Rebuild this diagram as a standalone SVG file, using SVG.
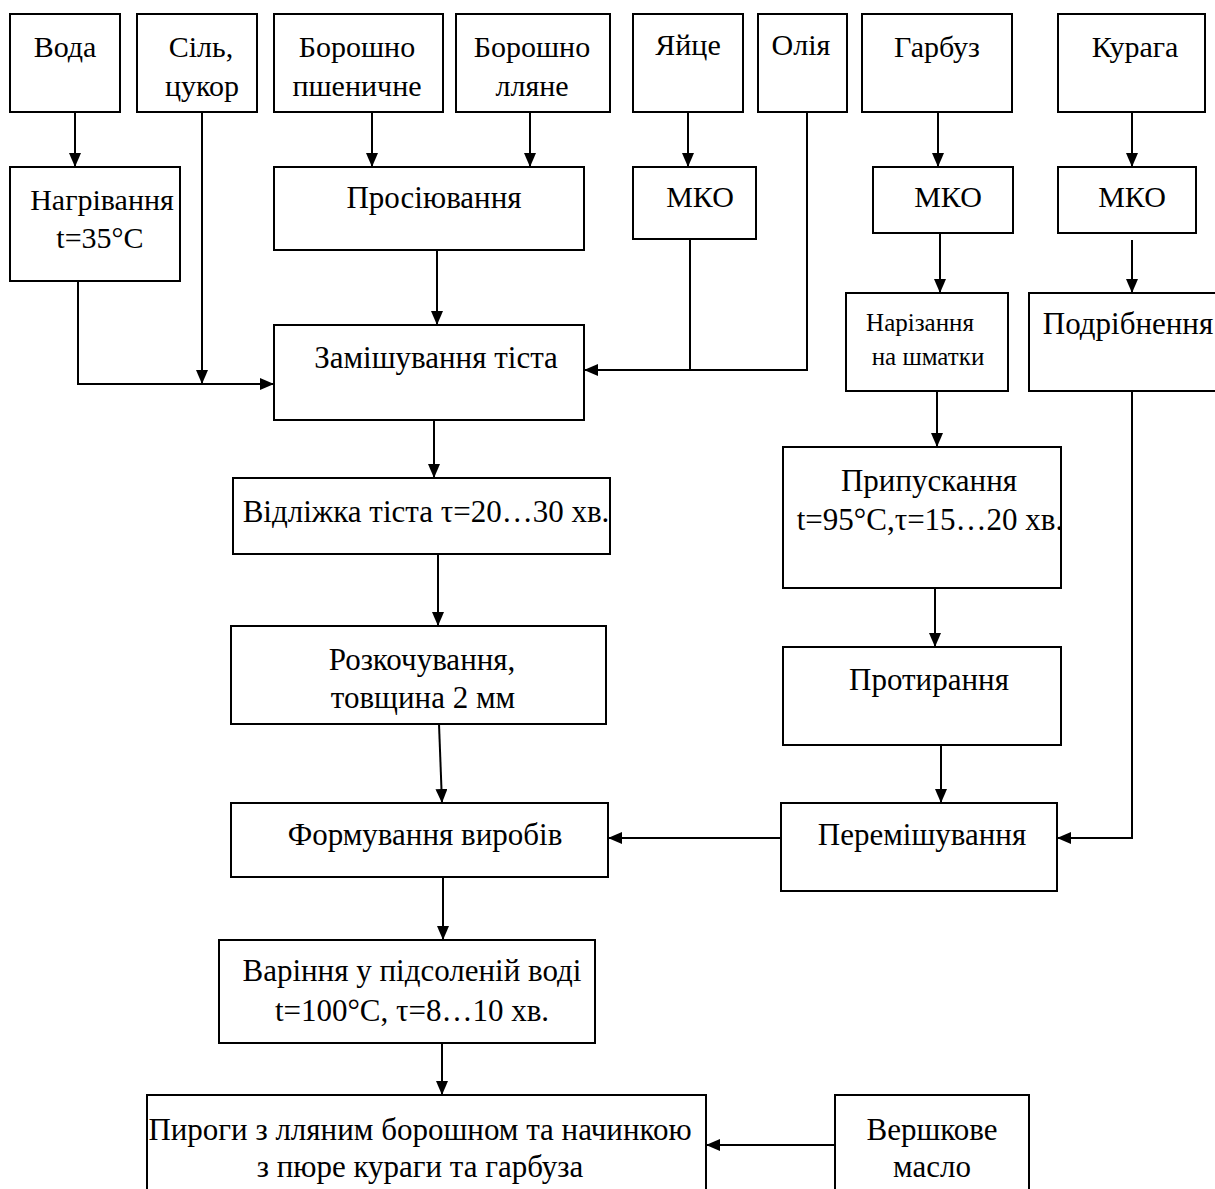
<svg xmlns="http://www.w3.org/2000/svg" width="1215" height="1189" viewBox="0 0 1215 1189">
<defs>
<marker id="ah" viewBox="0 0 14 12" refX="14" refY="6" markerWidth="14" markerHeight="12" markerUnits="userSpaceOnUse" orient="auto">
<path d="M0,0 L14,6 L0,12 Z" fill="#000"/>
</marker>
<style>
.b{fill:#fff;stroke:#000;stroke-width:2}
.t{font-family:"Liberation Serif","Times New Roman",serif;font-size:31px;fill:#000;text-anchor:middle}
.u{font-size:30px}
.s{font-size:25px}
.c{fill:none;stroke:#000;stroke-width:2}
.a{marker-end:url(#ah)}
</style>
</defs>
<rect width="1215" height="1189" fill="#fff"/>
<g id="connectors">
<path class="c a" d="M75,112 V167"/>
<path class="c a" d="M78,281 V384 H274"/>
<path class="c a" d="M202,112 V384"/>
<path class="c a" d="M372,112 V167"/>
<path class="c a" d="M530,112 V167"/>
<path class="c a" d="M437,250 V325"/>
<path class="c a" d="M688,112 V167"/>
<path class="c" d="M690,239 V370"/>
<path class="c a" d="M807,112 V370 H584"/>
<path class="c a" d="M938,112 V167"/>
<path class="c a" d="M940,233 V293"/>
<path class="c a" d="M1132,112 V167"/>
<path class="c a" d="M1132,240 V293"/>
<path class="c a" d="M937,391 V447"/>
<path class="c a" d="M935,588 V647"/>
<path class="c a" d="M941,745 V803"/>
<path class="c a" d="M1132,391 V838 H1057"/>
<path class="c a" d="M781,838 H608"/>
<path class="c a" d="M434,420 V478"/>
<path class="c a" d="M438,554 V626"/>
<path class="c a" d="M439,724 L442,803"/>
<path class="c a" d="M443,877 V940"/>
<path class="c a" d="M442,1043 V1095"/>
<path class="c a" d="M835,1145 H706"/>
</g>
<g id="voda"><rect class="b" x="10" y="14" width="110" height="98"/><text class="t u" x="65" y="57">Вода</text></g>
<g id="sil"><rect class="b" x="137" y="14" width="120" height="98"/><text class="t u" x="201" y="57">Сіль,</text><text class="t u" x="202" y="96">цукор</text></g>
<g id="borosh-psh"><rect class="b" x="274" y="14" width="169" height="98"/><text class="t u" x="357" y="57">Борошно</text><text class="t u" x="357" y="96">пшеничне</text></g>
<g id="borosh-llyane"><rect class="b" x="456" y="14" width="154" height="98"/><text class="t u" x="532" y="57">Борошно</text><text class="t u" x="532" y="96">лляне</text></g>
<g id="yaytse"><rect class="b" x="633" y="14" width="110" height="98"/><text class="t u" x="688" y="55">Яйце</text></g>
<g id="oliya"><rect class="b" x="758" y="14" width="89" height="98"/><text class="t u" x="801" y="55">Олія</text></g>
<g id="garbuz"><rect class="b" x="862" y="14" width="150" height="98"/><text class="t u" x="937" y="57">Гарбуз</text></g>
<g id="kuraga"><rect class="b" x="1058" y="14" width="147" height="98"/><text class="t u" x="1135" y="57">Курага</text></g>
<g id="nagrivannya"><rect class="b" x="10" y="167" width="170" height="114"/><text class="t u" x="102" y="210">Нагрівання</text><text class="t u" x="100" y="248">t=35°C</text></g>
<g id="prosiyuvannya"><rect class="b" x="274" y="167" width="310" height="83"/><text class="t" x="434" y="208">Просіювання</text></g>
<g id="mko1"><rect class="b" x="633" y="167" width="123" height="72"/><text class="t u" x="700" y="207">МКО</text></g>
<g id="mko2"><rect class="b" x="873" y="167" width="140" height="66"/><text class="t u" x="948" y="207">МКО</text></g>
<g id="mko3"><rect class="b" x="1058" y="167" width="138" height="66"/><text class="t u" x="1132" y="207">МКО</text></g>
<g id="zamishuvannya"><rect class="b" x="274" y="325" width="310" height="95"/><text class="t" x="436" y="368">Замішування тіста</text></g>
<g id="narizannya"><rect class="b" x="846" y="293" width="162" height="98"/><text class="t s" x="920" y="331">Нарізання</text><text class="t s" x="928" y="365">на шматки</text></g>
<g id="podribnennya"><rect class="b" x="1029" y="293" width="190" height="98"/><text class="t" x="1128" y="334">Подрібнення</text></g>
<g id="vidlizhka"><rect class="b" x="233" y="478" width="377" height="76"/><text class="t" x="426" y="522">Відліжка тіста τ=20…30 хв.</text></g>
<g id="prypuskannya"><rect class="b" x="783" y="447" width="278" height="141"/><text class="t" x="929" y="491">Припускання</text><text class="t" x="930" y="530">t=95°C,τ=15…20 хв.</text></g>
<g id="rozkochuvannya"><rect class="b" x="231" y="626" width="375" height="98"/><text class="t" x="422" y="670">Розкочування,</text><text class="t" x="423" y="708">товщина 2 мм</text></g>
<g id="protyrannya"><rect class="b" x="783" y="647" width="278" height="98"/><text class="t" x="929" y="690">Протирання</text></g>
<g id="formuvannya"><rect class="b" x="231" y="803" width="377" height="74"/><text class="t" x="425" y="845">Формування виробів</text></g>
<g id="peremishuvannya"><rect class="b" x="781" y="803" width="276" height="88"/><text class="t" x="922" y="845">Перемішування</text></g>
<g id="varinnya"><rect class="b" x="219" y="940" width="376" height="103"/><text class="t" x="412" y="981">Варіння у підсоленій воді</text><text class="t" x="412" y="1021">t=100°C, τ=8…10 хв.</text></g>
<g id="pyrohy"><rect class="b" x="147" y="1095" width="559" height="100"/><text class="t" x="420" y="1140">Пироги з лляним борошном та начинкою</text><text class="t" x="420" y="1177">з пюре кураги та гарбуза</text></g>
<g id="vershkove"><rect class="b" x="835" y="1095" width="194" height="100"/><text class="t" x="932" y="1140">Вершкове</text><text class="t" x="932" y="1177">масло</text></g>
</svg>
